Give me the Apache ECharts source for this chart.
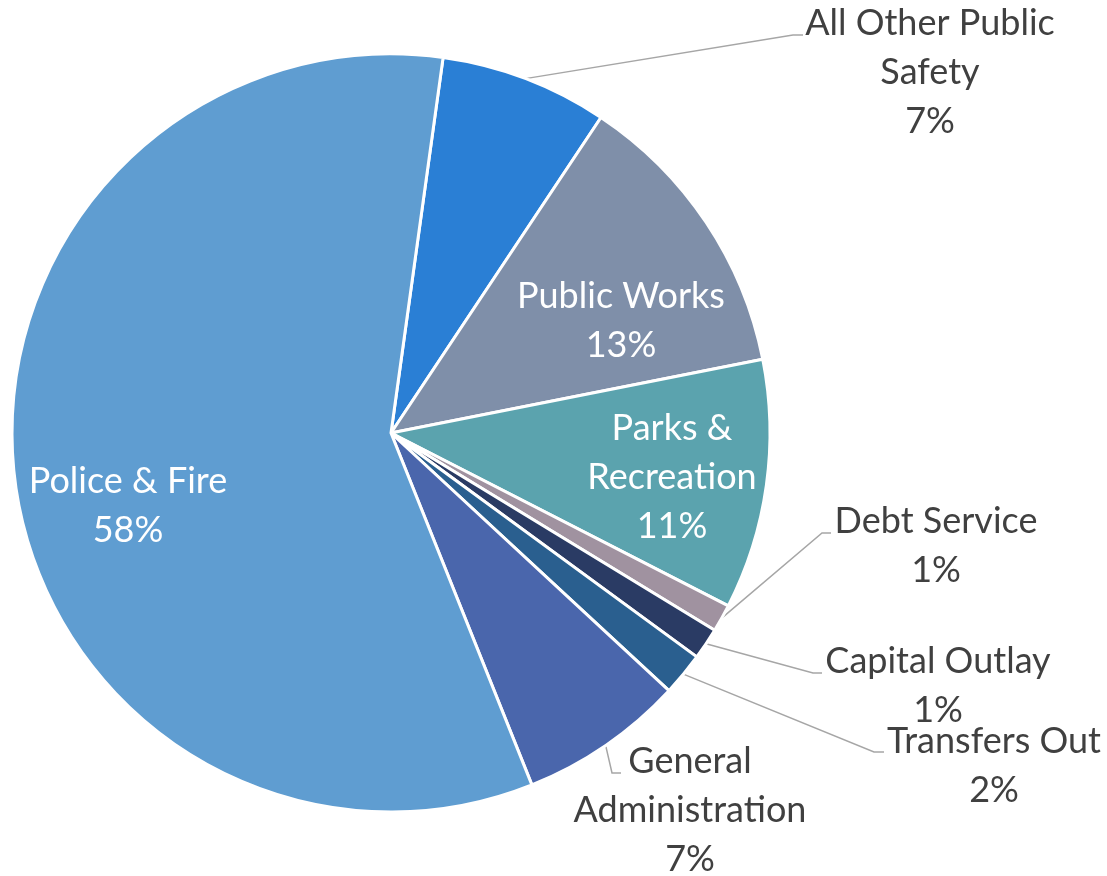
<!DOCTYPE html>
<html><head><meta charset="utf-8">
<script src="https://cdn.jsdelivr.net/npm/echarts@6/dist/echarts.min.js"></script>
<style>html,body{margin:0;padding:0;background:#fff}#c{width:1107px;height:876px}</style>
</head><body><div id="c"></div>
<script>
// Data
const categories = ['All Other Public Safety','Public Works','Parks & Recreation','Debt Service','Capital Outlay','Transfers Out','General Administration','Police & Fire'];
const shares = [7.15, 12.54, 10.65, 1.17, 1.35, 1.84, 7.04, 58.25];
const labelNames = ['All Other Public\nSafety','Public Works','Parks &\nRecreation','Debt Service','Capital Outlay','Transfers Out','General\nAdministration','Police & Fire'];
const insideLabels = ['Public Works','Parks & Recreation','Police & Fire'];

// Style / layout
const colors = ['#2A7FD5','#7F8FA9','#5BA3AE','#A092A0','#2A3B64','#2A5F8F','#4A66AC','#5F9DD1'];
const CX = 391, CY = 433, R = 379, START_CW = 7.9; // degrees clockwise from 12 o'clock
const layoutSpec = [
  {x:930, y:72,  line:[[793,35],[803,35]]},
  {x:621, y:321},
  {x:672, y:477},
  {x:936, y:546, line:[[822,533],[831,533]]},
  {x:938, y:686, line:[[813,673],[822,673]]},
  {x:994, y:766, line:[[874,752],[884,752]]},
  {x:690, y:810, line:[[612,773],[621,773]]},
  {x:128, y:506}
];

const total = shares.reduce((a,b)=>a+b,0);
function edgePoint(i){
  let cum = 0;
  for (let k=0;k<i;k++) cum += shares[k];
  const th = (START_CW + (cum + shares[i]/2)/total*360) * Math.PI/180;
  return [CX + R*Math.sin(th), CY - R*Math.cos(th)];
}

const data = categories.map((n,i)=>{
  const inside = insideLabels.indexOf(n) >= 0;
  return {
    name: n, value: shares[i],
    itemStyle: {color: colors[i]},
    label: {color: inside ? '#ffffff' : '#404040'},
    labelLine: {show: !inside}
  };
});

const chart = echarts.init(document.getElementById('c'), null, {renderer:'canvas'});
chart.setOption({
  animation: false,
  series: [{
    type: 'pie',
    center: [CX, CY],
    radius: [0, R],
    startAngle: 90 - START_CW,
    clockwise: true,
    percentPrecision: 0,
    avoidLabelOverlap: false,
    emphasis: {disabled: true},
    itemStyle: {borderColor: '#ffffff', borderWidth: 3},
    label: {
      show: true,
      position: 'outside',
      fontFamily: 'Lato',
      fontSize: 36,
      lineHeight: 49,
      align: 'center',
      formatter: p => labelNames[p.dataIndex] + '\n' + p.percent + '%'
    },
    labelLine: {show: true, lineStyle: {color: '#A6A6A6', width: 1.5}},
    labelLayout: function(params){
      const s = layoutSpec[params.dataIndex];
      const out = {x: s.x, y: s.y, align: 'center', verticalAlign: 'middle'};
      if (s.line) {
        out.labelLinePoints = [edgePoint(params.dataIndex), s.line[0], s.line[1]];
      }
      return out;
    },
    data: data
  }]
});
</script></body></html>
